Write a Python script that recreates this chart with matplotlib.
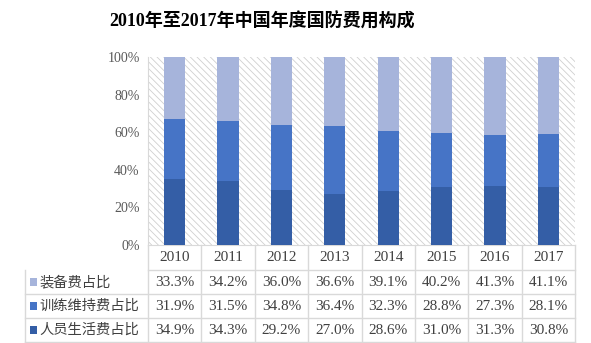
import matplotlib.pyplot as plt
import matplotlib.transforms as mtransforms
from matplotlib.patches import Rectangle
from matplotlib.lines import Line2D

plt.rcParams['font.family'] = ['Liberation Serif', 'Noto Sans CJK SC', 'DejaVu Sans']
plt.rcParams['hatch.linewidth'] = 0.6

# 数据
years = ['2010', '2011', '2012', '2013', '2014', '2015', '2016', '2017']
series_names = ['装备费占比', '训练维持费占比', '人员生活费占比']
equipment = [33.3, 34.2, 36.0, 36.6, 39.1, 40.2, 41.3, 41.1]
training = [31.9, 31.5, 34.8, 36.4, 32.3, 28.8, 27.3, 28.1]
personnel = [34.9, 34.3, 29.2, 27.0, 28.6, 31.0, 31.3, 30.8]
colors = ['#a6b4db', '#4674c6', '#345ea6']

fig = plt.figure(figsize=(5.91, 3.43), dpi=100)
ax = fig.add_axes([148 / 591, 98 / 343, 427 / 591, 188 / 343])

x = list(range(len(years)))
ax.bar(x, personnel, width=0.4, color=colors[2], zorder=3)
bottom2 = [p for p in personnel]
ax.bar(x, training, width=0.4, bottom=bottom2, color=colors[1], zorder=3)
bottom3 = [p + t for p, t in zip(personnel, training)]
ax.bar(x, equipment, width=0.4, bottom=bottom3, color=colors[0], zorder=3)

ax.set_xlim(-0.5, len(years) - 0.5)
ax.set_ylim(0, 100)
# 斜线背景
ax.add_patch(Rectangle((0, 0), 1, 1, transform=ax.transAxes, facecolor='white',
                       edgecolor='#d0d0d0', linewidth=0, hatch='\\\\\\\\\\', zorder=0))
ax.set_yticks([0, 20, 40, 60, 80, 100])
ax.set_yticklabels([f'{v}%' for v in [0, 20, 40, 60, 80, 100]], color='#595959', fontsize=10)
ax.tick_params(axis='y', length=0, pad=6)
ax.set_xticks([])
for s in ['top', 'right']:
    ax.spines[s].set_visible(False)
ax.spines['left'].set_color('#d9d9d9')
ax.spines['bottom'].set_color('#d9d9d9')

# 表格
trans = mtransforms.blended_transform_factory(ax.transData, ax.transAxes)
row_h = 24 / 188
head_h = 25 / 188
lab_left = -0.5 - 123 / (427 / len(years))
line_kw = dict(color='#d9d9d9', lw=1, transform=trans, clip_on=False)

y_head = -head_h
ys = [y_head - row_h * (i + 1) for i in range(3)]
# 水平线
ax.add_line(Line2D([-0.5, len(years) - 0.5], [y_head, y_head], **line_kw))
for yy in ys:
    ax.add_line(Line2D([lab_left, len(years) - 0.5], [yy, yy], **line_kw))
ax.add_line(Line2D([lab_left, lab_left], [y_head, ys[-1]], **line_kw))
# 竖线
for i in range(len(years) + 1):
    ax.add_line(Line2D([i - 0.5, i - 0.5], [0, ys[-1]], **line_kw))

for i, yr in enumerate(years):
    ax.text(i, -head_h / 2, yr, transform=trans, ha='center', va='center',
            fontsize=11, color='#404040')

rows = [equipment, training, personnel]
for r, (name, vals, c) in enumerate(zip(series_names, rows, colors)):
    yc = y_head - row_h * (r + 0.5)
    ax.add_patch(Rectangle((lab_left + 0.09, yc - 0.022), 0.13, 0.044, transform=trans,
                           facecolor=c, edgecolor='none', clip_on=False))
    ax.text(lab_left + 0.27, yc, name, transform=trans, ha='left', va='center',
            fontsize=10.3, color='#404040', family=['Noto Sans CJK SC'])
    for i, v in enumerate(vals):
        ax.text(i, yc, f'{v:.1f}%', transform=trans, ha='center', va='center',
                fontsize=11, color='#404040')

fig.text(262 / 591, 1 - 22 / 343, '2010年至2017年中国年度国防费用构成', ha='center', va='center',
         fontsize=13, fontweight='bold', color='black')

fig.savefig('out.png', dpi=100)
